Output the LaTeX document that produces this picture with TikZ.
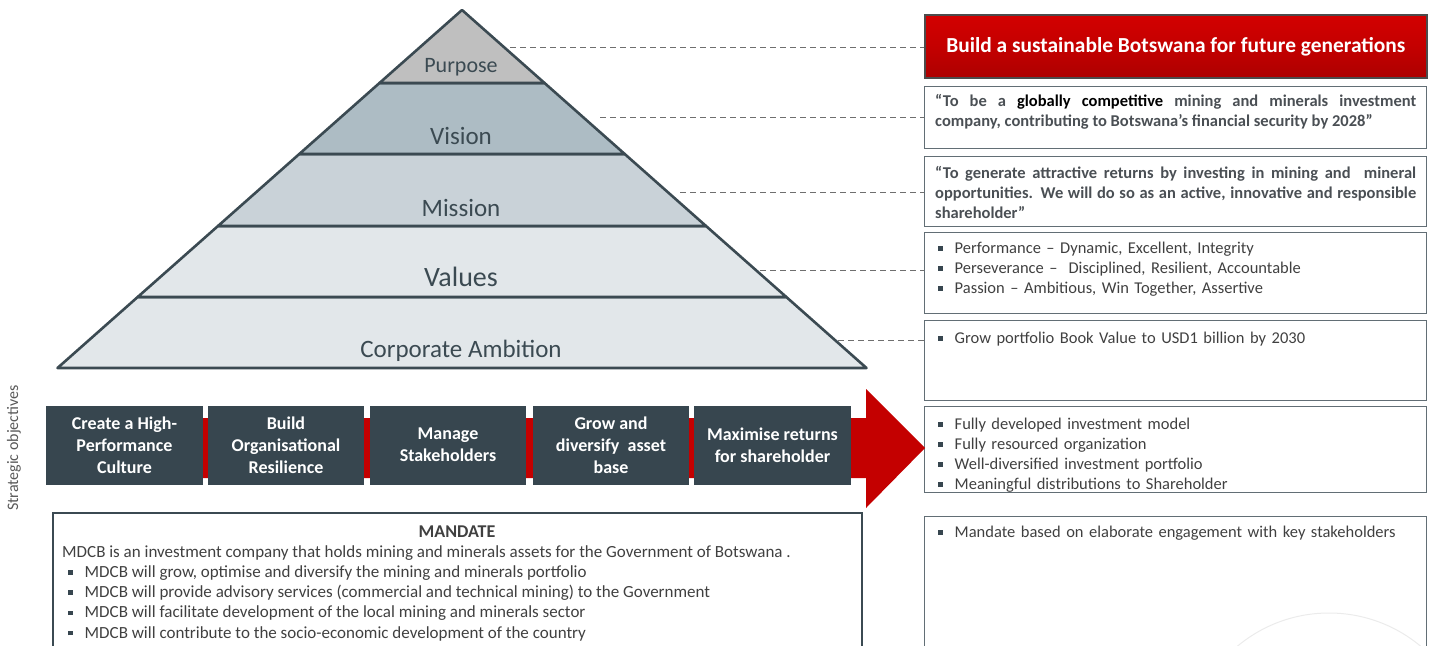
\documentclass[tikz,border=0pt]{standalone}
\usepackage{fontspec}
\setmainfont{Carlito}
\usetikzlibrary{positioning}

\definecolor{slate}{HTML}{37464F}
\definecolor{edge}{HTML}{3B4A52}
\definecolor{txtgray}{HTML}{404040}
\definecolor{boldgray}{HTML}{4A4F54}
\definecolor{lvlpurpose}{HTML}{BFBFBF}
\definecolor{lvlvision}{HTML}{ADBCC4}
\definecolor{lvlmission}{HTML}{C9D2D8}
\definecolor{lvlbase}{HTML}{E2E7EA}
\definecolor{arrowred}{HTML}{C40000}
\definecolor{leadgray}{HTML}{6F6F6F}

\hyphenpenalty=10000
\exhyphenpenalty=10000

\newcommand{\sqb}{\textcolor{slate}{\raisebox{2.8pt}{\rule{4.5pt}{4.5pt}}}\hspace{12pt}}

\tikzset{
  layer/.style={draw=edge, line width=2.6pt, line join=round},
  lvllabel/.style={text=edge, font=\fontsize{25}{28}\selectfont},
  leader/.style={draw=leadgray, line width=0.9pt, dash pattern=on 6pt off 4pt},
  infobox/.style={draw=edge!80, line width=1.4pt, rectangle, inner sep=0pt, anchor=north west, minimum width=502pt},
  infotext/.style={anchor=north west, inner sep=0pt, text width=481pt, text=txtgray,
    font=\fontsize{16.5}{20}\selectfont},
  quotetext/.style={infotext, align=justify, text=boldgray, font=\bfseries\fontsize{16.5}{20}\selectfont},
  goalbox/.style={fill=slate, text=white, align=center, minimum height=79pt, inner sep=1pt, font=\bfseries\fontsize{18}{22}\selectfont}
}

\begin{document}
\begin{tikzpicture}[x=1pt, y=-1pt]
  \useasboundingbox (0,0) rectangle (1434,645);

  % pyramid
  \filldraw[layer, fill=lvlbase] (137.7,297) -- (786.3,297) -- (866.5,368) -- (57.5,368) -- cycle;
  \filldraw[layer, fill=lvlbase] (218,226) -- (706,226) -- (786.3,297) -- (137.7,297) -- cycle;
  \filldraw[layer, fill=lvlmission] (299.3,154) -- (624.7,154) -- (706,226) -- (218,226) -- cycle;
  \filldraw[layer, fill=lvlvision] (379.5,83) -- (544.5,83) -- (624.7,154) -- (299.3,154) -- cycle;
  \filldraw[layer, fill=lvlpurpose] (462,10) -- (544.5,83) -- (379.5,83) -- cycle;

  \node[lvllabel, font=\fontsize{22}{24}\selectfont] (purpose) at (461,67) {Purpose};
  \node[lvllabel] (vision) at (461,136) {Vision};
  \node[lvllabel] (mission) at (461,208) {Mission};
  \node[lvllabel, font=\fontsize{28}{30}\selectfont] (values) at (461,277) {Values};
  \node[lvllabel] (ambition) at (461,351) {Corporate Ambition};

  % right column
  \node[infobox, minimum height=63pt, draw=black!70, line width=1.6pt,
        top color=arrowred!75!red, bottom color=arrowred!88!black, middle color=arrowred]
        (purposebox) at (924,14) {};
  \node[text=white, font=\bfseries\fontsize{21.4}{24}\selectfont] (purposetext) at (purposebox.center) {Build a sustainable Botswana for future generations};

  \node[infobox, minimum height=62pt] (visionbox) at (924,86) {};
  \node[quotetext] (visiontext) at (935,94)
    {“To be a \textcolor{black}{globally competitive} mining and minerals investment\linebreak company, contributing to Botswana’s financial security by 2028”};

  \node[infobox, minimum height=70pt] (missionbox) at (924,156) {};
  \node[quotetext] (missiontext) at (935,166)
    {“To generate attractive returns by investing in mining and\ \ mineral opportunities. We will do so as an active, innovative and responsible shareholder”};

  \node[infobox, minimum height=81pt] (valuesbox) at (924,232) {};
  \node[infotext, align=left] (valuestext) at (938,242)
    {\sqb Performance -- Dynamic, Excellent, Integrity\\
     \sqb Perseverance --\ \ Disciplined, Resilient, Accountable\\
     \sqb Passion -- Ambitious, Win Together, Assertive};

  \node[infobox, minimum height=80pt] (ambitionbox) at (924,320) {};
  \node[infotext, align=left] (ambitiontext) at (938,332)
    {\sqb Grow portfolio Book Value to USD1 billion by 2030};

  \node[infobox, minimum height=86pt] (outcomebox) at (924,406) {};
  \node[infotext, align=left] (outcometext) at (938,418)
    {\sqb Fully developed investment model\\
     \sqb Fully resourced organization\\
     \sqb Well-diversified investment portfolio\\
     \sqb Meaningful distributions to Shareholder};

  \begin{scope}
    \clip (925,517) rectangle (1425,645);
    \draw[color=black!8, line width=1pt] (1329,756) circle (143);
  \end{scope}
  \node[infobox, minimum height=140pt] (basisbox) at (924,516) {};
  \node[infotext, align=left] (basistext) at (938,526)
    {\sqb Mandate based on elaborate engagement with key stakeholders};

  % leaders
  \coordinate (purposetip) at (510,47);
  \coordinate (visiontip) at (600,117);
  \coordinate (missiontip) at (680,192);
  \coordinate (valuestip) at (760,270);
  \coordinate (ambitiontip) at (838,340);
  \draw[leader] (purposetip) -- (purposetip -| purposebox.west);
  \draw[leader] (visiontip) -- (visiontip -| visionbox.west);
  \draw[leader] (missiontip) -- (missiontip -| missionbox.west);
  \draw[leader] (valuestip) -- (valuestip -| valuesbox.west);
  \draw[leader] (ambitiontip) -- (ambitiontip -| ambitionbox.west);

  % strategic objectives
  \fill[arrowred] (46,418) -- (866,418) -- (866,389) -- (925,448) -- (866,508) -- (866,478) -- (46,478) -- cycle;
  \node[goalbox, minimum width=157pt] (culture) at (124.5,445) {Create a High-\\Performance\\Culture};
  \node[goalbox, minimum width=156pt] (resilience) at (286,445) {Build\\Organisational\\Resilience};
  \node[goalbox, minimum width=156pt] (stakeholders) at (448,445) {Manage\\Stakeholders};
  \node[goalbox, minimum width=156pt] (assets) at (611,445) {Grow and\\diversify\ \ asset\\base};
  \node[goalbox, minimum width=157pt] (returns) at (772.5,445) {Maximise returns\\for shareholder};

  \node[rotate=90, text=black!65, font=\fontsize{16}{18}\selectfont] (objlabel) at (14,448) {Strategic objectives};

  % mandate
  \draw[draw=edge, line width=2pt] (53,660) -- (53,513) -- (862,513) -- (862,660);
  \node[text=txtgray, font=\bfseries\fontsize{18}{20}\selectfont] (mandatehead) at (457,532) {MANDATE};
  \node[anchor=north west, inner sep=0pt, text=txtgray, align=left, font=\fontsize{17}{20.3}\selectfont] (mandatetext) at (62,545)
    {MDCB is an investment company that holds mining and minerals assets for the Government of Botswana .\\
     \hspace{6pt}\sqb MDCB will grow, optimise and diversify the mining and minerals portfolio\\
     \hspace{6pt}\sqb MDCB will provide advisory services (commercial and technical mining) to the Government\\
     \hspace{6pt}\sqb MDCB will facilitate development of the local mining and minerals sector\\
     \hspace{6pt}\sqb MDCB will contribute to the socio-economic development of the country};
\end{tikzpicture}
\end{document}
